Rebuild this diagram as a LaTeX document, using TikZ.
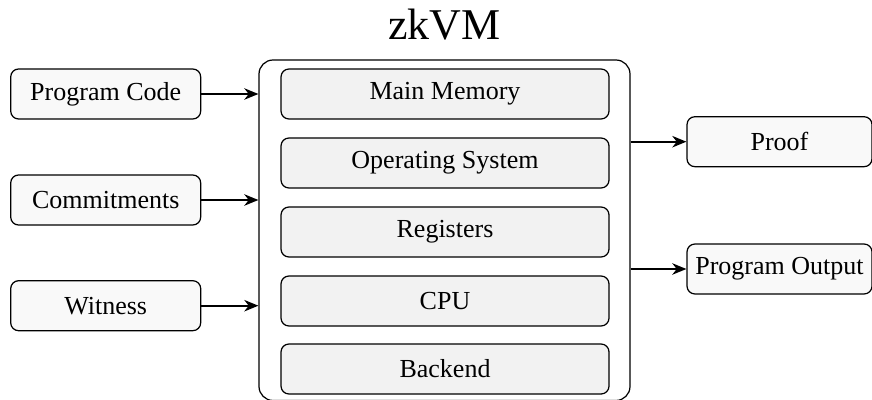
\documentclass[tikz,border=0pt]{standalone}
\usepackage{fontspec}
\setmainfont{Liberation Serif}
\usepackage{tikz}
\usetikzlibrary{calc,arrows.meta}
\tikzset{
  iobox/.style={draw,line width=0.7pt,rounded corners=4.5pt,fill=gray!5,
    minimum height=1cm,inner sep=0pt,font=\fontsize{14.8}{18}\selectfont},
  partbox/.style={draw,line width=0.7pt,rounded corners=4.5pt,fill=gray!10,
    minimum width=6.56cm,minimum height=1cm,inner sep=0pt,font=\fontsize{14.8}{18}\selectfont},
  flow/.style={-{Stealth[length=8pt,width=6.5pt,inset=2.5pt]},line width=1.1pt}
}
\begin{document}
\begin{tikzpicture}
      \useasboundingbox (0,0) rectangle (17.44,-8);

      % the machine
      \node[draw,line width=0.7pt,rounded corners=8pt,fill=white,
        minimum width=7.42cm,minimum height=6.81cm] (zk) at (8.89,-4.605) {};
      \node[anchor=base,font=\fontsize{25}{30}\selectfont] (title) at (8.89,-0.8) {zkVM};

      \node[partbox] (mem) at (8.9,-1.88) {Main Memory};
      \node[partbox] (os)  at (8.9,-3.26) {Operating System};
      \node[partbox] (reg) at (8.9,-4.64) {Registers};
      \node[partbox] (cpu) at (8.9,-6.02) {CPU};
      \node[partbox] (be)  at (8.9,-7.38) {Backend};

      % inputs
      \node[iobox,minimum width=3.8cm] (code) at (2.114,-1.88) {Program Code};
      \node[iobox,minimum width=3.8cm] (com)  at (2.114,-4.0)  {Commitments};
      \node[iobox,minimum width=3.8cm] (wit)  at (2.114,-6.114) {Witness};

      % outputs
      \node[iobox,minimum width=3.7cm] (proof) at (15.59,-2.834) {Proof};
      \node[iobox,minimum width=3.7cm] (out)   at (15.59,-5.38)  {Program Output};

      \draw[flow] (code.east) -- (code.east -| zk.west);
      \draw[flow] (com.east) -- (com.east -| zk.west);
      \draw[flow] (wit.east) -- (wit.east -| zk.west);
      \draw[flow] (proof.west -| zk.east) -- (proof.west);
      \draw[flow] (out.west -| zk.east) -- (out.west);
\end{tikzpicture}
\end{document}
